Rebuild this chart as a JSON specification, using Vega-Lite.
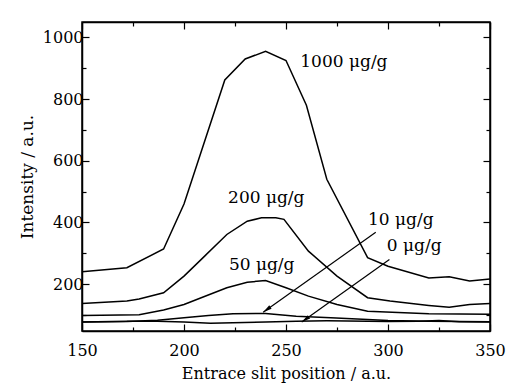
{
  "$schema": "https://vega.github.io/schema/vega-lite/v6.json",
  "width": 408,
  "height": 309,
  "autosize": "none",
  "padding": {"left": 82, "top": 22, "right": 29, "bottom": 55},
  "background": "white",
  "config": {
    "view": {"stroke": "black", "strokeWidth": 1.5},
    "font": "DejaVu Serif",
    "axis": {
      "domainColor": "black", "domainWidth": 1.5,
      "tickColor": "black", "tickWidth": 1.2,
      "labelColor": "black", "titleColor": "black",
      "labelFont": "DejaVu Serif", "titleFont": "DejaVu Serif",
      "labelFontSize": 16, "titleFontSize": 16, "titleFontWeight": "normal",
      "grid": false
    }
  },
  "datasets": {
    "curves": [
      {"series": "1000", "x": 150, "y": 240}, {"series": "1000", "x": 172, "y": 253}, {"series": "1000", "x": 190, "y": 314},
      {"series": "1000", "x": 200, "y": 460}, {"series": "1000", "x": 220, "y": 862}, {"series": "1000", "x": 230, "y": 930},
      {"series": "1000", "x": 240, "y": 955}, {"series": "1000", "x": 250, "y": 925}, {"series": "1000", "x": 260, "y": 780},
      {"series": "1000", "x": 270, "y": 540}, {"series": "1000", "x": 290, "y": 286}, {"series": "1000", "x": 300, "y": 258},
      {"series": "1000", "x": 320, "y": 220}, {"series": "1000", "x": 330, "y": 224}, {"series": "1000", "x": 340, "y": 210},
      {"series": "1000", "x": 350, "y": 217},
      {"series": "200", "x": 150, "y": 137}, {"series": "200", "x": 172, "y": 145}, {"series": "200", "x": 178, "y": 152},
      {"series": "200", "x": 190, "y": 172}, {"series": "200", "x": 200, "y": 226}, {"series": "200", "x": 210, "y": 290},
      {"series": "200", "x": 221, "y": 361}, {"series": "200", "x": 231, "y": 404}, {"series": "200", "x": 238, "y": 415},
      {"series": "200", "x": 245, "y": 415}, {"series": "200", "x": 249, "y": 410}, {"series": "200", "x": 261, "y": 307},
      {"series": "200", "x": 275, "y": 226}, {"series": "200", "x": 290, "y": 156}, {"series": "200", "x": 301, "y": 145},
      {"series": "200", "x": 320, "y": 131}, {"series": "200", "x": 330, "y": 125}, {"series": "200", "x": 340, "y": 134},
      {"series": "200", "x": 350, "y": 137},
      {"series": "50", "x": 150, "y": 98}, {"series": "50", "x": 178, "y": 101}, {"series": "50", "x": 190, "y": 116},
      {"series": "50", "x": 200, "y": 134}, {"series": "50", "x": 210, "y": 160}, {"series": "50", "x": 221, "y": 188},
      {"series": "50", "x": 231, "y": 206}, {"series": "50", "x": 240, "y": 212}, {"series": "50", "x": 250, "y": 188},
      {"series": "50", "x": 261, "y": 161}, {"series": "50", "x": 275, "y": 134}, {"series": "50", "x": 290, "y": 112},
      {"series": "50", "x": 320, "y": 104}, {"series": "50", "x": 350, "y": 102},
      {"series": "10", "x": 150, "y": 77}, {"series": "10", "x": 172, "y": 79}, {"series": "10", "x": 187, "y": 83},
      {"series": "10", "x": 200, "y": 91}, {"series": "10", "x": 212, "y": 98}, {"series": "10", "x": 224, "y": 104},
      {"series": "10", "x": 240, "y": 105}, {"series": "10", "x": 255, "y": 96}, {"series": "10", "x": 272, "y": 91},
      {"series": "10", "x": 290, "y": 85}, {"series": "10", "x": 300, "y": 82}, {"series": "10", "x": 320, "y": 80},
      {"series": "10", "x": 350, "y": 78},
      {"series": "0", "x": 150, "y": 77}, {"series": "0", "x": 172, "y": 80}, {"series": "0", "x": 187, "y": 80},
      {"series": "0", "x": 200, "y": 77}, {"series": "0", "x": 213, "y": 73}, {"series": "0", "x": 224, "y": 75},
      {"series": "0", "x": 240, "y": 77}, {"series": "0", "x": 255, "y": 80}, {"series": "0", "x": 270, "y": 81},
      {"series": "0", "x": 300, "y": 79}, {"series": "0", "x": 315, "y": 80}, {"series": "0", "x": 325, "y": 82},
      {"series": "0", "x": 335, "y": 78}, {"series": "0", "x": 350, "y": 77}
    ],
    "labels": [
      {"label": "1000 μg/g", "x": 257, "y": 905},
      {"label": "200 μg/g", "x": 221.6, "y": 464},
      {"label": "50 μg/g", "x": 222, "y": 247},
      {"label": "10 μg/g", "x": 290.2, "y": 393},
      {"label": "0 μg/g", "x": 299.4, "y": 306}
    ],
    "arrows": [
      {"name": "10", "x": 294, "y": 368, "x2": 238.8, "y2": 109},
      {"name": "0", "x": 300.7, "y": 280, "x2": 257.7, "y2": 77}
    ]
  },
  "layer": [
    {
      "data": {"name": "curves"},
      "mark": {"type": "line", "color": "black", "strokeWidth": 1.5},
      "encoding": {
        "x": {"field": "x", "type": "quantitative", "scale": {"domain": [150, 350], "nice": false, "zero": false},
          "axis": {"orient": "bottom", "title": "Entrace slit position / a.u.",
            "values": [150, 175, 200, 225, 250, 275, 300, 325, 350],
            "labelExpr": "datum.value % 50 === 0 ? format(datum.value, 'd') : ''",
            "tickSize": {"condition": {"test": "datum.value % 50 === 0", "value": -7}, "value": -4},
            "labelPadding": 18, "titlePadding": 7, "labelFlush": false}},
        "y": {"field": "y", "type": "quantitative", "scale": {"domain": [48, 1050], "nice": false, "zero": false},
          "axis": {"orient": "left", "title": "Intensity / a.u.", "titleFontSize": 17,
            "values": [100, 200, 300, 400, 500, 600, 700, 800, 900, 1000],
            "labelExpr": "datum.value % 200 === 0 ? format(datum.value, 'd') : ''",
            "tickSize": {"condition": {"test": "datum.value % 200 === 0", "value": -7}, "value": -4},
            "labelPadding": 6, "titlePadding": 6, "labelFlush": false}},
        "detail": {"field": "series"}
      }
    },
    {
      "data": {"name": "labels"},
      "mark": {"type": "text", "align": "left", "baseline": "alphabetic", "font": "DejaVu Serif", "fontSize": 17, "color": "black"},
      "encoding": {
        "x": {"field": "x", "type": "quantitative",
          "axis": {"orient": "top", "title": null, "labels": false,
            "values": [150, 175, 200, 225, 250, 275, 300, 325, 350],
            "tickSize": {"condition": {"test": "datum.value % 50 === 0", "value": -7}, "value": -4}}},
        "y": {"field": "y", "type": "quantitative",
          "axis": {"orient": "right", "title": null, "labels": false,
            "values": [100, 200, 300, 400, 500, 600, 700, 800, 900, 1000],
            "tickSize": {"condition": {"test": "datum.value % 200 === 0", "value": -7}, "value": -4}}},
        "text": {"field": "label"}
      }
    },
    {
      "data": {"name": "arrows"},
      "mark": {"type": "rule", "color": "black", "strokeWidth": 1.2},
      "encoding": {
        "x": {"field": "x", "type": "quantitative", "axis": null},
        "y": {"field": "y", "type": "quantitative", "axis": null},
        "x2": {"field": "x2"},
        "y2": {"field": "y2"}
      }
    },
    {
      "data": {"name": "arrows"},
      "mark": {"type": "point", "shape": "M0,0L-0.45,2L0.45,2Z", "filled": true, "color": "black", "opacity": 1, "size": 80, "angle": 234.5},
      "encoding": {
        "x": {"field": "x2", "type": "quantitative", "axis": null},
        "y": {"field": "y2", "type": "quantitative", "axis": null}
      }
    }
  ]
}
